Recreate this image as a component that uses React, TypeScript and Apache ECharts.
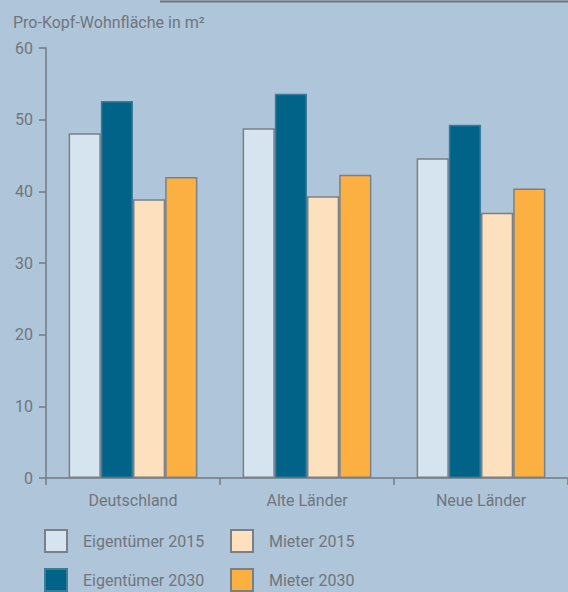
import React, { useEffect, useRef } from "react";
import * as echarts from "echarts";

const categories = ["Deutschland", "Alte Länder", "Neue Länder"];
const seriesNames = ["Eigentümer 2015", "Eigentümer 2030", "Mieter 2015", "Mieter 2030"];
const eigentuemer2015 = [48.1, 48.8, 44.6];
const eigentuemer2030 = [52.6, 53.6, 49.3];
const mieter2015 = [38.9, 39.3, 37.0];
const mieter2030 = [42.0, 42.3, 40.4];
const yTicks = [0, 10, 20, 30, 40, 50, 60];

const FONT = 'Roboto, "Noto Sans", sans-serif';
const GRAY = "#6f767d";
const AXIS = "#737a82";

export default function App() {
  const ref = useRef<HTMLDivElement>(null);
  useEffect(() => {
    if (!ref.current) return;
    const chart = echarts.init(ref.current, null, { renderer: "svg" });
    const values = [eigentuemer2015, eigentuemer2030, mieter2015, mieter2030];
    const colors = ["#d5e4ee", "#006387", "#fde0bd", "#fcb041"];
    const borders = ["#7a8088", "#3d7c99", "#7a8088", "#7a8088"];
    const legendPos = [
      { left: 44, top: 529 },
      { left: 44, top: 568 },
      { left: 230, top: 529 },
      { left: 230, top: 568 },
    ];
    chart.setOption({
      animation: false,
      backgroundColor: "#afc5d9",
      textStyle: { fontFamily: FONT },
      graphic: [
        {
          type: "line",
          shape: { x1: 160, y1: 1.5, x2: 568, y2: 1.5 },
          style: { stroke: "#6f767d", lineWidth: 2 },
        },
        {
          type: "text",
          left: 13,
          top: 14,
          style: {
            text: "Pro-Kopf-Wohnfläche in m²",
            fill: GRAY,
            font: `16px ${FONT}`,
          },
        },
      ],
      grid: { left: 46, top: 48, width: 528, height: 430 },
      legend: seriesNames.map((name, i) => ({
        left: legendPos[i].left,
        top: legendPos[i].top,
        padding: 0,
        icon: "rect",
        itemWidth: 22,
        itemHeight: 22,
        data: [name],
        textStyle: { color: GRAY, fontSize: 16, fontFamily: FONT, padding: [8, 0, 0, 11] },
      })),
      xAxis: {
        type: "category",
        data: categories,
        axisLine: { lineStyle: { color: AXIS, width: 1.5 } },
        axisTick: { show: true, interval: 0, length: 7, lineStyle: { color: AXIS, width: 1.5 } },
        axisLabel: { color: GRAY, fontSize: 16, margin: 14, fontFamily: FONT },
      },
      yAxis: {
        type: "value",
        min: yTicks[0],
        max: yTicks[yTicks.length - 1],
        interval: 10,
        axisLine: { show: true, lineStyle: { color: AXIS, width: 1.5 } },
        axisTick: { show: true, length: 7, lineStyle: { color: AXIS, width: 1.5 } },
        axisLabel: { color: GRAY, fontSize: 16, margin: 13, fontFamily: FONT },
        splitLine: { show: false },
      },
      series: seriesNames.map((name, i) => ({
        name,
        type: "bar",
        data: values[i],
        barGap: "0%",
        barCategoryGap: "26%",
        itemStyle: { color: colors[i], borderColor: borders[i], borderWidth: 1.5 },
      })),
    });
    return () => chart.dispose();
  }, []);
  return (
    <div
      ref={ref}
      style={{ position: "fixed", left: 0, top: 0, width: 568, height: 592 }}
    />
  );
}
